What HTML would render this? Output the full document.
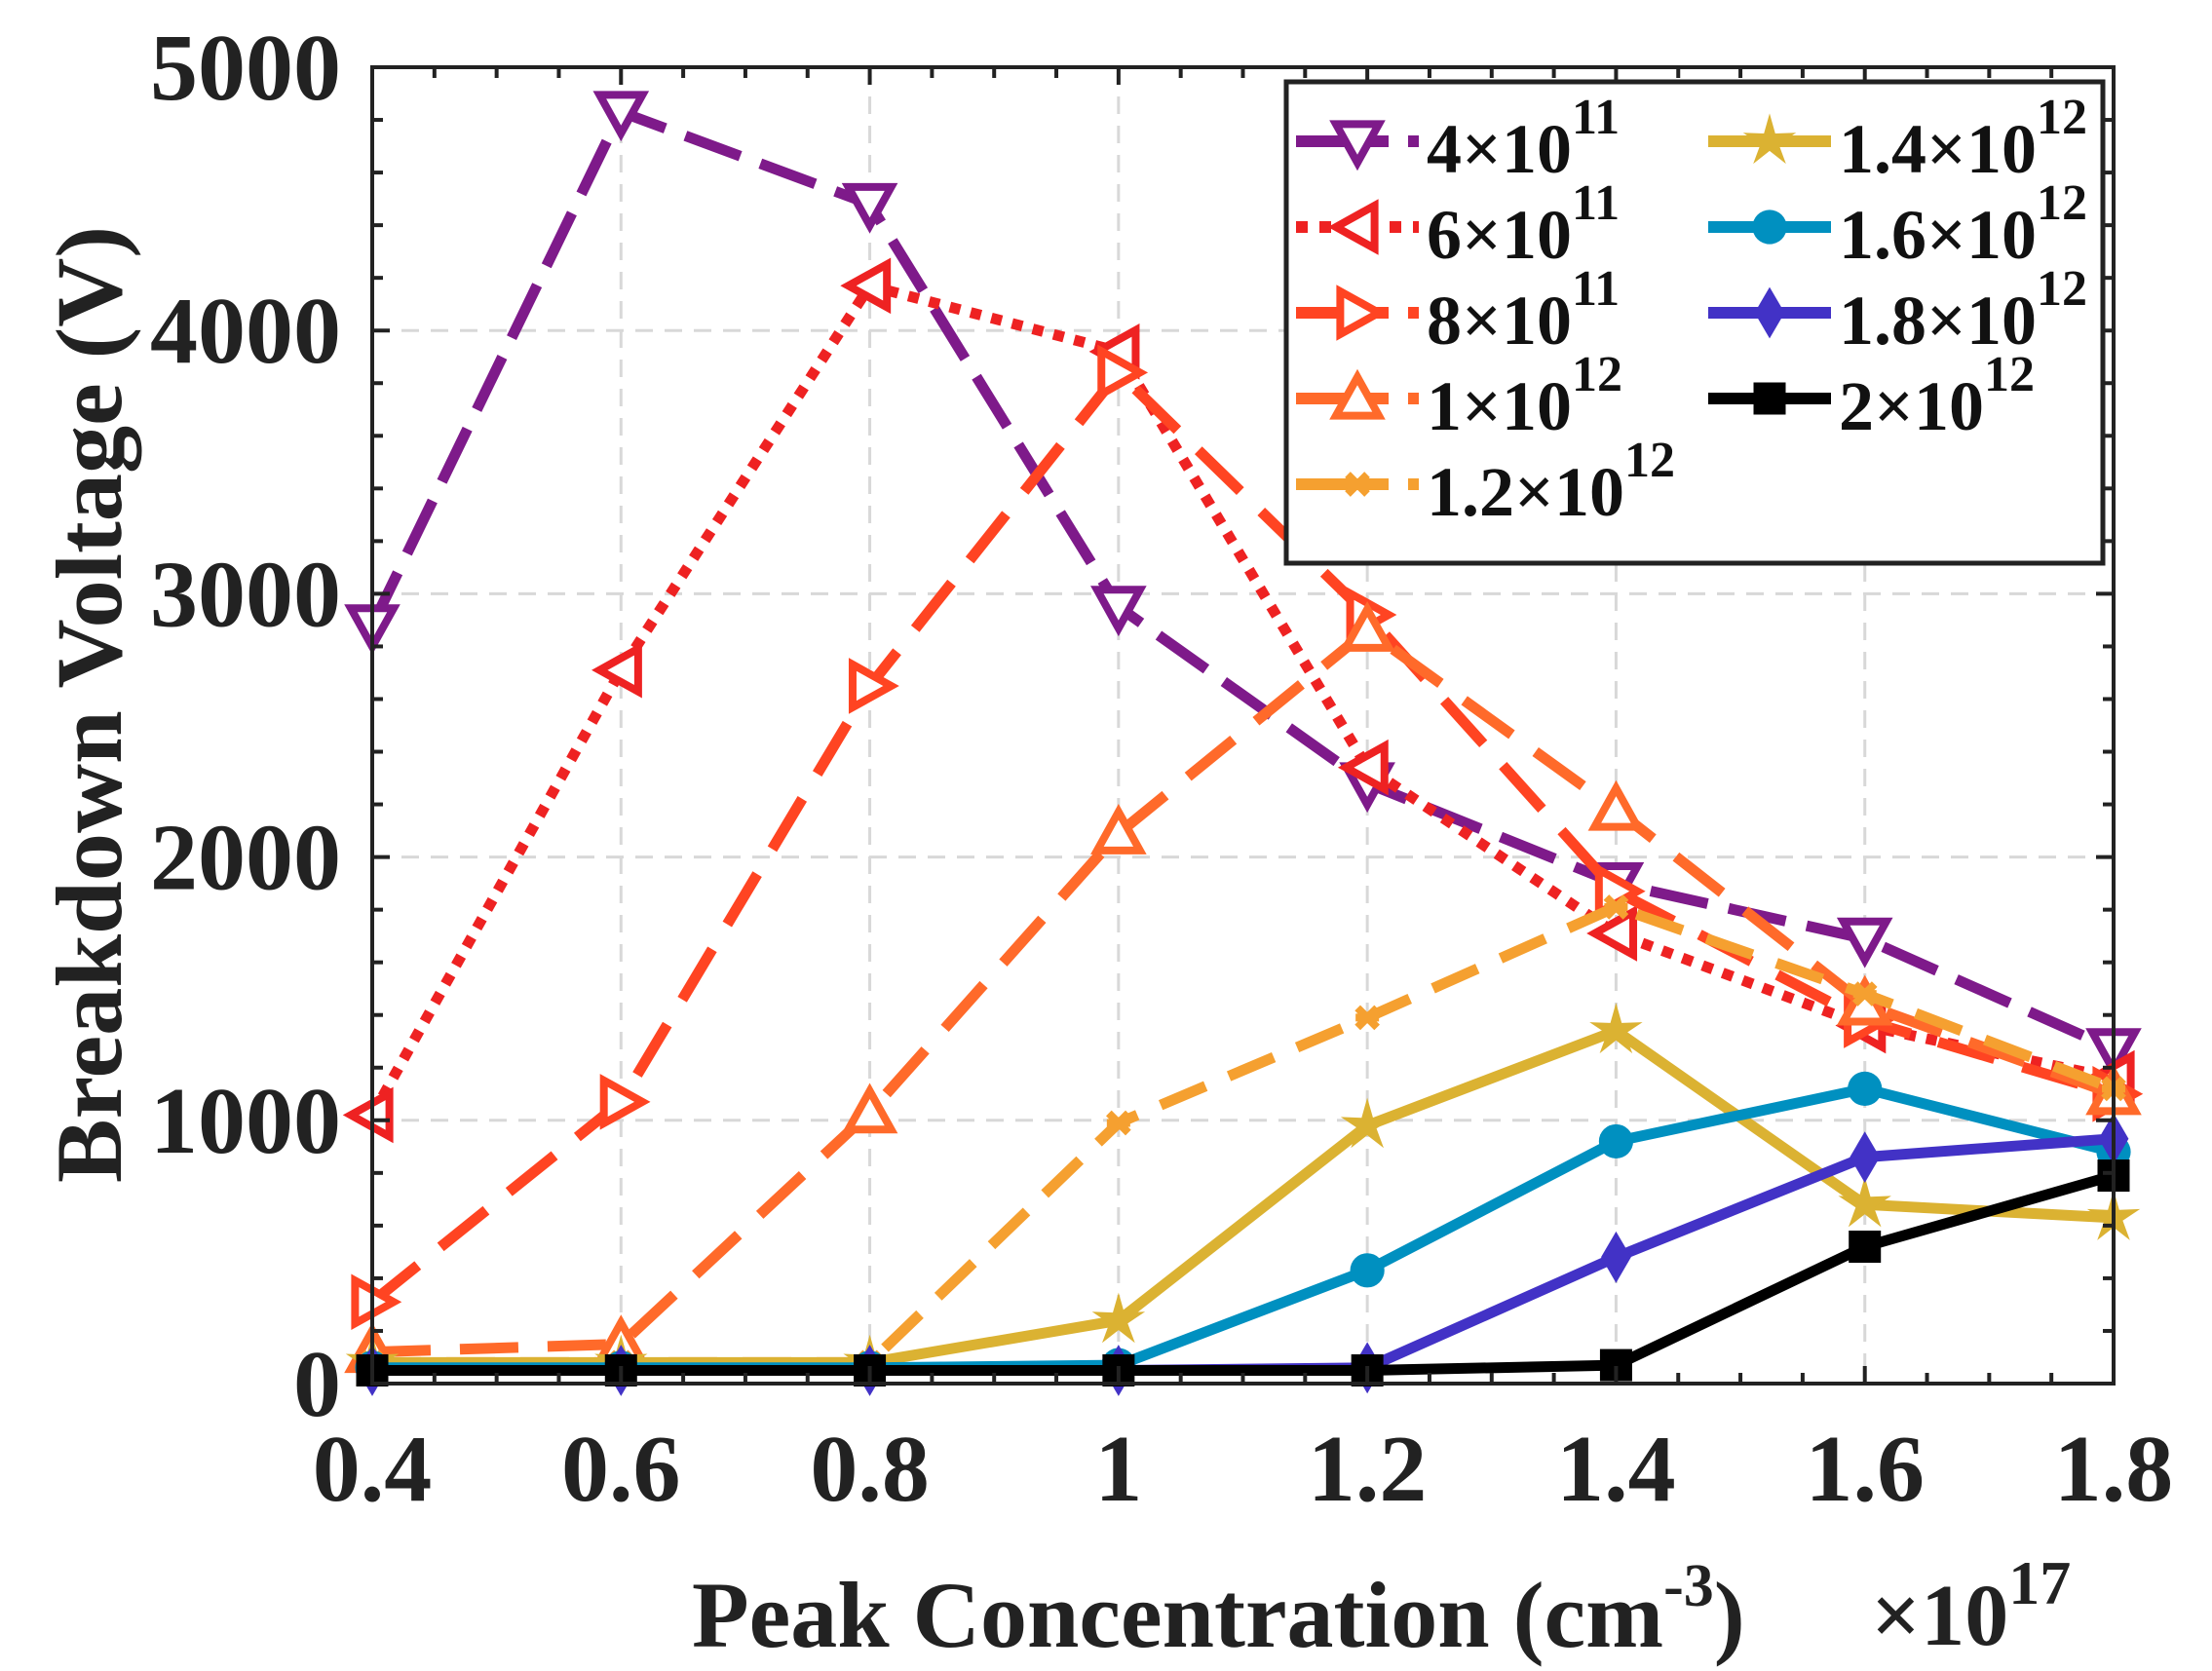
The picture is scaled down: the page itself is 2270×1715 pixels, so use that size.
<!DOCTYPE html>
<html><head><meta charset="utf-8">
<style>
html,body{margin:0;padding:0;background:#fff;}
svg{display:block;font-family:"Liberation Serif",serif;font-weight:bold;}
</style></head>
<body>
<svg id="chart" width="2270" height="1715" viewBox="0 0 2270 1715" xmlns="http://www.w3.org/2000/svg">
<rect width="2270" height="1715" fill="#fff"/>
<g id="grid"></g>
<g id="series"></g>
<g id="axes"></g>
<g id="legend"></g>
<text transform="translate(124,723) rotate(-90)" text-anchor="middle" font-size="96" fill="#222" textLength="982" lengthAdjust="spacingAndGlyphs">Breakdown Voltage (V)</text>
<text x="710" y="1690" font-size="96" fill="#222">Peak Concentration (cm<tspan font-size="62" dy="-42">-3</tspan><tspan dy="42">)</tspan></text>
<text x="1920" y="1688" font-size="90" fill="#222">×10<tspan font-size="64" dy="-42">17</tspan></text>
</svg>
<script>
const categories=[0.4,0.6,0.8,1.0,1.2,1.4,1.6,1.8];
const xTicks=[0.4,0.6,0.8,1,1.2,1.4,1.6,1.8];
const yTicks=[0,1000,2000,3000,4000,5000];
const s4e11=[2880,4830,4480,2950,2280,1900,1690,1270];
const s6e11=[1020,2710,4170,3920,2340,1710,1360,1160];
const s8e11=[310,1070,2650,3840,2920,1870,1380,1100];
const s1e12=[120,150,1030,2090,2860,2180,1440,1100];
const s12e12=[80,80,80,990,1390,1810,1480,1120];
const s14e12=[80,80,80,240,980,1340,680,630];
const s16e12=[60,60,60,70,430,920,1120,880];
const s18e12=[50,50,50,50,60,480,860,930];
const s2e12=[50,50,50,50,50,70,520,790];
const seriesNames=["4e11","6e11","8e11","1e12","1.2e12","1.4e12","1.6e12","1.8e12","2e12"];

const L=382,R=2169,T=69,B=1420;
const X=v=>L+(v-0.4)/1.4*(R-L);
const Y=v=>B-v/5000*(B-T);
const NS="http://www.w3.org/2000/svg";
function mk(tag,attrs,parent){const e=document.createElementNS(NS,tag);for(const k in attrs)e.setAttribute(k,attrs[k]);parent.appendChild(e);return e;}
const grid=document.getElementById('grid'),axes=document.getElementById('axes'),ser=document.getElementById('series'),leg=document.getElementById('legend');

xTicks.forEach(v=>{const l=mk('line',{x1:X(v),x2:X(v),y1:T,y2:B,stroke:'#d8d8d8','stroke-width':3,'stroke-dasharray':'18,12'},grid);
});
yTicks.forEach(v=>{const l=mk('line',{x1:L,x2:R,y1:Y(v),y2:Y(v),stroke:'#d8d8d8','stroke-width':3,'stroke-dasharray':'18,12'},grid);
});

for(let v=0.4;v<=1.8001;v+=0.05){const maj=Math.abs((v*10)%2)<0.01||Math.abs((v*10)%2-2)<0.01;const len=maj?18:11;
[[B,-1],[T,1]].forEach(([y0,d])=>{const t=mk('line',{x1:X(v),x2:X(v),y1:y0,y2:y0+d*len,stroke:'#222','stroke-width':4},axes);
});}
for(let v=0;v<=5000;v+=200){const len=v%1000===0?18:11;
[[L,1],[R,-1]].forEach(([x0,d])=>{const t=mk('line',{x1:x0,x2:x0+d*len,y1:Y(v),y2:Y(v),stroke:'#222','stroke-width':4},axes);
});}
const box=mk('rect',{x:L,y:T,width:R-L,height:B-T,fill:'none',stroke:'#222','stroke-width':4},axes);

xTicks.forEach(v=>{const t=mk('text',{x:X(v),y:1540,'text-anchor':'middle','font-size':98,fill:'#222'},axes);t.textContent=String(v);
});
yTicks.forEach(v=>{const t=mk('text',{x:350,y:Y(v)+33,'text-anchor':'end','font-size':98,fill:'#222'},axes);t.textContent=String(v);
});

function marker(type,cx,cy,color,g,sz){
 const s=sz||22;let e;
 if(type==='down')e=mk('polygon',{points:`${cx-s},${cy-s*0.8} ${cx+s},${cy-s*0.8} ${cx},${cy+s}`,fill:'#fff',stroke:color,'stroke-width':8},g);
 else if(type==='up')e=mk('polygon',{points:`${cx-s},${cy+s*0.8} ${cx+s},${cy+s*0.8} ${cx},${cy-s}`,fill:'#fff',stroke:color,'stroke-width':8},g);
 else if(type==='left')e=mk('polygon',{points:`${cx+s*0.8},${cy-s} ${cx+s*0.8},${cy+s} ${cx-s},${cy}`,fill:'#fff',stroke:color,'stroke-width':8},g);
 else if(type==='right')e=mk('polygon',{points:`${cx-s*0.8},${cy-s} ${cx-s*0.8},${cy+s} ${cx+s},${cy}`,fill:'#fff',stroke:color,'stroke-width':8},g);
 else if(type==='x'){e=mk('path',{d:`M${cx-10},${cy-10}L${cx+10},${cy+10}M${cx+10},${cy-10}L${cx-10},${cy+10}M${cx-12},${cy}L${cx+12},${cy}`,stroke:color,'stroke-width':8},g);}
 else if(type==='star'){let p=[];for(let i=0;i<10;i++){const r=i%2?s*0.45:s*1.3;const a=-Math.PI/2+i*Math.PI/5;p.push((cx+r*Math.cos(a)).toFixed(1)+','+(cy+r*Math.sin(a)).toFixed(1));}
  e=mk('polygon',{points:p.join(' '),fill:color},g);}
 else if(type==='circle')e=mk('circle',{cx,cy,r:s*0.8,fill:color},g);
 else if(type==='diamond')e=mk('polygon',{points:`${cx},${cy-s*1.2} ${cx+s*0.7},${cy} ${cx},${cy+s*1.2} ${cx-s*0.7},${cy}`,fill:color},g);
 else if(type==='square')e=mk('rect',{x:cx-s*0.75,y:cy-s*0.75,width:s*1.5,height:s*1.5,fill:color},g);
 
}
const defs=[
 {vals:s4e11,color:'#7e1a8a',dash:'60,22',mark:'down',label:'4×10',sup:'11'},
 {vals:s6e11,color:'#ee2222',dash:'11,11',mark:'left',label:'6×10',sup:'11'},
 {vals:s8e11,color:'#ff4422',dash:'60,30',mark:'right',label:'8×10',sup:'11'},
 {vals:s1e12,color:'#ff6a2a',dash:'60,30',mark:'up',label:'1×10',sup:'12'},
 {vals:s12e12,color:'#f5a030',dash:'50,26',mark:'x',label:'1.2×10',sup:'12'},
 {vals:s14e12,color:'#dbb232',dash:'',mark:'star',label:'1.4×10',sup:'12'},
 {vals:s16e12,color:'#0090c0',dash:'',mark:'circle',label:'1.6×10',sup:'12'},
 {vals:s18e12,color:'#4232c6',dash:'',mark:'diamond',label:'1.8×10',sup:'12'},
 {vals:s2e12,color:'#000000',dash:'',mark:'square',label:'2×10',sup:'12'}
];
defs.forEach((d,i)=>{
 const g=mk('g',{},ser);
 
 
 const pts=d.vals.map((v,j)=>X(categories[j]).toFixed(1)+','+Y(v).toFixed(1)).join(' ');
 const pl=mk('polyline',{points:pts,fill:'none',stroke:d.color,'stroke-width':11,'stroke-dasharray':d.dash||'none','stroke-linejoin':'round'},g);
 
 d.vals.forEach((v,j)=>marker(d.mark,X(categories[j]),Y(v),d.color,g));
});

const lb=mk('rect',{x:1320,y:84,width:838,height:494,fill:'#fff',stroke:'#222','stroke-width':5},leg);

defs.forEach((d,i)=>{
 const col=i<5?0:1,row=i<5?i:i-5;
 const x0=col?1753:1330,cy=145+row*88;
 const g=mk('g',{},leg);
 
 
 mk('line',{x1:x0,x2:x0+126,y1:cy,y2:cy,stroke:d.color,'stroke-width':12,'stroke-dasharray':d.dash?(i==1?'12,12':'95,20'):'none'},g);
 marker(d.mark,x0+63,cy,d.color,g,22);
 const t=mk('text',{x:x0+134,y:cy+32,'font-size':72,fill:'#111'},g);
 t.textContent=d.label;
 const s=mk('tspan',{'font-size':52,dy:-40},t);s.textContent=d.sup;
});
</script>
</body></html>
